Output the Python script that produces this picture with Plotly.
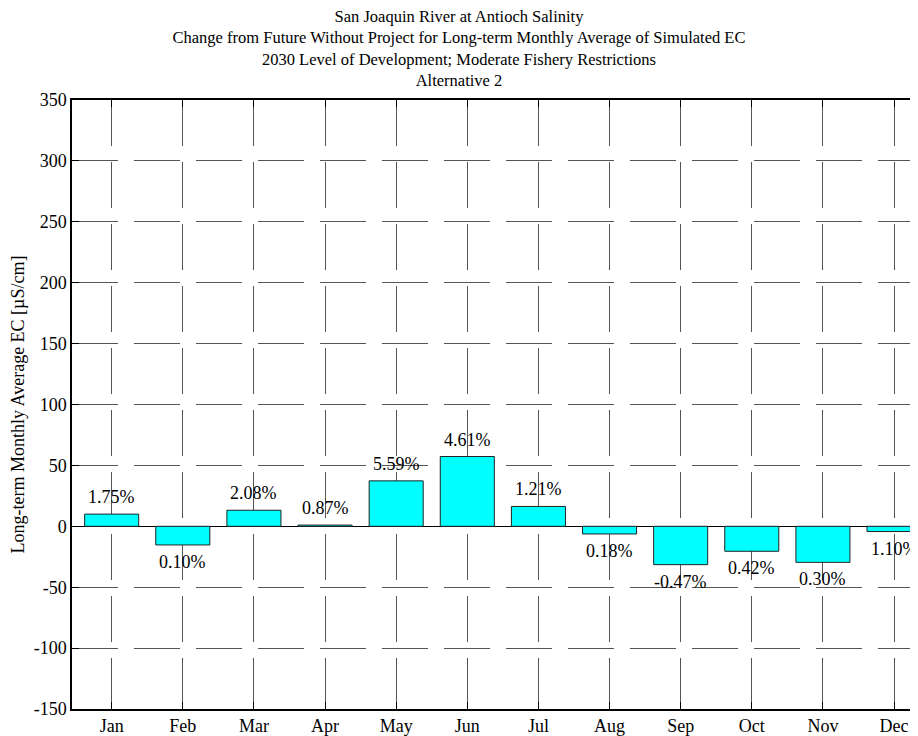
import plotly.graph_objects as go

months = ["Jan", "Feb", "Mar", "Apr", "May", "Jun", "Jul", "Aug", "Sep", "Oct", "Nov", "Dec"]
ec_change = [10, -15.3, 13.2, 1, 37.3, 57.3, 16.3, -6.3, -31.5, -20.5, -29.6, -4.3]
pct_labels = ["1.75%", "0.10%", "2.08%", "0.87%", "5.59%", "4.61%",
              "1.21%", "0.18%", "-0.47%", "0.42%", "0.30%", "1.10%"]
y_ticks = [-150, -100, -50, 0, 50, 100, 150, 200, 250, 300, 350]
y_tick_text = ["-150", "-100", "-50", "0", "50", "100", "150", "200", "250", "300", "350"]

title_lines = [
    "San Joaquin River at Antioch Salinity",
    "Change from Future Without Project for Long-term Monthly Average of Simulated EC",
    "2030 Level of Development; Moderate Fishery Restrictions",
    "Alternative 2",
]

FONT = "Liberation Serif, Times New Roman, serif"

fig = go.Figure()
fig.add_trace(go.Bar(x = months, y = ec_change, width = 0.76,
                     marker = {"color": "#00FFFF", "line": {"color": "#222222", "width": 1}},
                     hoverinfo = "skip"))

# percent labels above positive bars, below negative ones
for m, v, t in zip(months, ec_change, pct_labels):
    fig.add_annotation(x = m, y = v, text = t, showarrow = False,
                       yanchor = "bottom" if v >= 0 else "top",
                       yshift = 5 if v >= 0 else -5,
                       font = {"family": FONT, "size": 18, "color": "black"})

# page body has an 8px margin, so the figure is sized to fit the window
fig.update_layout(
    width = 910, height = 728,
    paper_bgcolor = "white", plot_bgcolor = "white",
    margin = {"l": 64, "r": 0, "t": 92, "b": 18},
    showlegend = False,
    font = {"family": FONT, "size": 18, "color": "black"},
    title = {"text": "<br>".join(title_lines), "x": 0.4956, "xanchor": "center",
             "y": 0.981, "yanchor": "top", "yref": "container",
             "font": {"family": FONT, "size": 16.5, "color": "black"}},
)

fig.update_xaxes(
    range = [-0.558, 11.337], showline = True, linecolor = "black", linewidth = 1.5,
    mirror = "ticks", ticks = "inside", ticklen = 7, tickcolor = "black",
    showgrid = True, gridcolor = "#555555", gridwidth = 1, griddash = "46px,16px",
    tickfont = {"family": FONT, "size": 18}, fixedrange = True,
)
fig.update_yaxes(
    range = [-150, 350], tickvals = y_ticks, ticktext = y_tick_text,
    showline = True, linecolor = "black", linewidth = 1.5,
    ticks = "inside", ticklen = 7, tickcolor = "black",
    showgrid = True, gridcolor = "#555555", gridwidth = 1, griddash = "46px,16px",
    zeroline = True, zerolinecolor = "black", zerolinewidth = 1,
    tickfont = {"family": FONT, "size": 18},
    title = {"text": "Long-term Monthly Average EC [µS/cm]", "standoff": 13,
             "font": {"family": FONT, "size": 18}},
    fixedrange = True,
)

fig.write_html("out.html")
